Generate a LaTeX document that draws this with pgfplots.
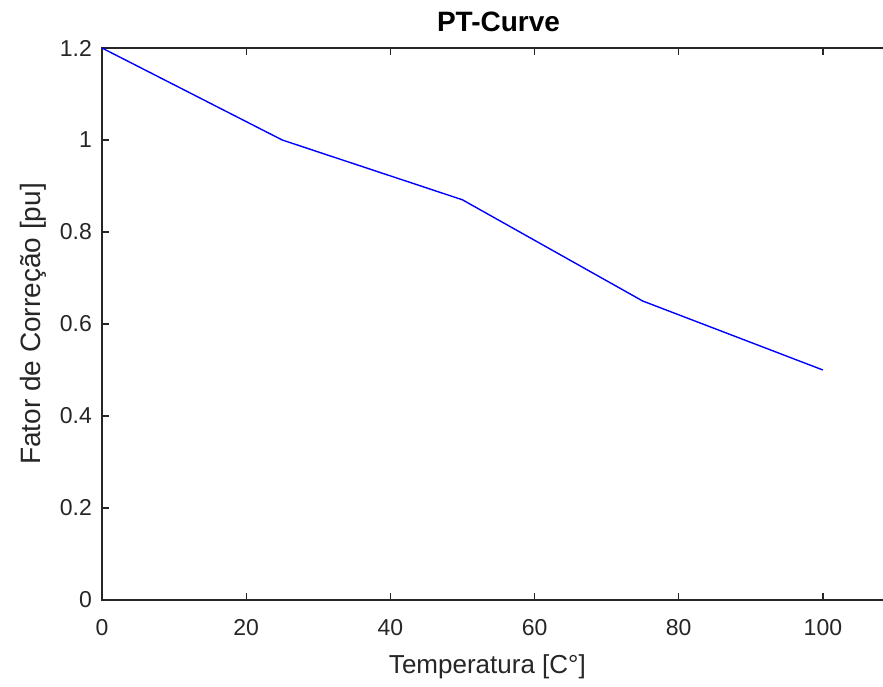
\documentclass[border=0pt]{standalone}
\usepackage{pgfplots}
\pgfplotsset{compat=1.18}
\usepackage{fontspec}
\setmainfont{Liberation Sans}
\definecolor{axgray}{RGB}{38,38,38}
\begin{document}
\begin{tikzpicture}
\begin{axis}[
  scale only axis, width=396.5pt, height=276pt,
  xmin=0, xmax=110, ymin=0, ymax=1.2,
  xtick={0,20,...,100}, ytick={0,0.2,...,1.2},
  yticklabels={0,0.2,0.4,0.6,0.8,1,1.2},
  tick align=inside, major tick length=3.5pt,
  axis line style={axgray, line width=0.6pt}, tick style={axgray, line width=0.6pt},
  font=\fontsize{11.5}{13}\selectfont, tick label style={color=axgray},
  /pgf/number format/assume math mode=true,
  xticklabel style={yshift=-6pt}, yticklabel style={xshift=-1.5pt},
  title={\textbf{PT-Curve}},
  title style={at={(0.5,1)}, anchor=base, yshift=2pt, font=\fontsize{14}{16}\selectfont},
  xlabel={Temperatura [C°]}, ylabel={Fator de Correção [pu]},
  label style={color=axgray, font=\fontsize{13}{15}\selectfont},
  xlabel style={at={(ticklabel cs:0.486)}, yshift=-3pt},
  ylabel style={yshift=0pt, font=\fontsize{14}{16}\selectfont},
]
\addplot[color={rgb,255:red,0;green,0;blue,255}, line width=0.7pt] coordinates {
  (0,1.2) (25,1.0) (50,0.87) (75,0.65) (100,0.5)
};
\end{axis}
\pgfresetboundingbox
\useasboundingbox ([shift={(-51pt,-43pt)}]current axis.south west) rectangle ([shift={(390.5pt,300pt)}]current axis.south west);
\end{tikzpicture}
\end{document}
